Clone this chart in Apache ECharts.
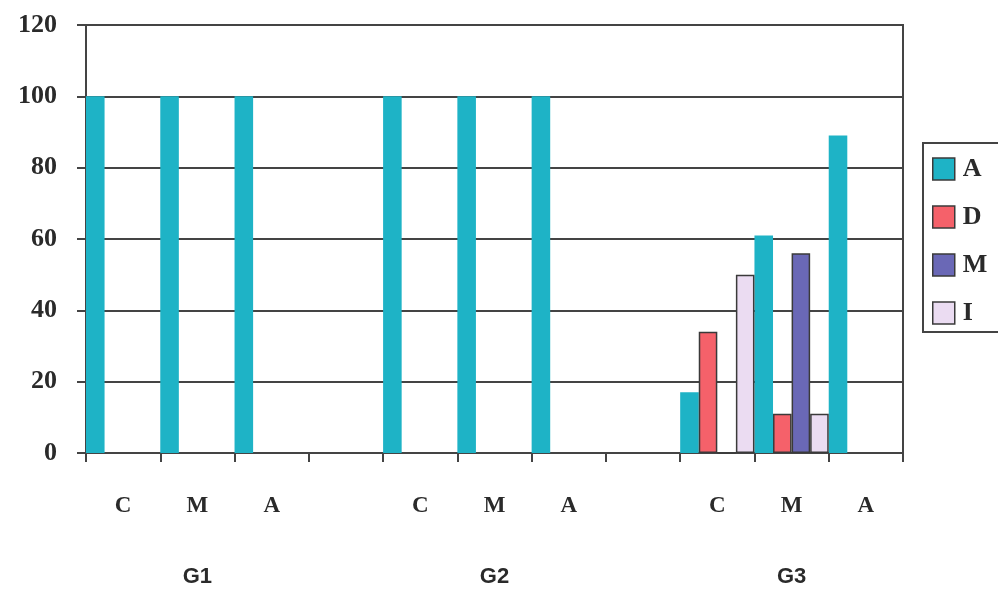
<!DOCTYPE html>
<html>
<head>
<meta charset="utf-8">
<script src="https://cdn.jsdelivr.net/npm/echarts@6/dist/echarts.min.js"></script>
<style>
    html, body { margin: 0; padding: 0; background: #fff; }
    #chart { width: 998px; height: 592px; }
</style>
</head>
<body>
<div id="chart"></div>
<script>
// 每组三个类别，组间留一个空位
const categories = ["C", "M", "A", "", "C", "M", "A", "", "C", "M", "A"];
const groupLabels = ["", "G1", "", "", "", "G2", "", "", "", "G3", ""];
const yTicks = [0, 20, 40, 60, 80, 100, 120];

const seriesNames = ["A", "D", "M", "I"];
const valuesA = [100, 100, 100, null, 100, 100, 100, null, 17, 61, 89];
const valuesD = [null, null, null, null, null, null, null, null, 34, 11, null];
const valuesM = [null, null, null, null, null, null, null, null, 0, 56, null];
const valuesI = [null, null, null, null, null, null, null, null, 50, 11, null];

const colors = ["#1eb3c6", "#f5616a", "#6a68b6", "#ebdcf2"];
const serifFont = "'Liberation Serif', 'DejaVu Serif', serif";

const chart = echarts.init(document.getElementById("chart"));

// 构建柱状序列
function makeBar(name, data, color, outlined) {
    return {
        name: name,
        type: "bar",
        data: data,
        barGap: "0%",
        barCategoryGap: "0%",
        itemStyle: {
            color: color,
            borderColor: outlined ? "#3a3a3a" : color,
            borderWidth: outlined ? 1.5 : 0
        }
    };
}

chart.setOption({
    animation: false,
    color: colors,
    grid: {
        left: 86, right: 95, top: 25, bottom: 139,
        show: true, borderColor: "#444", borderWidth: 2
    },
    legend: {
        orient: "vertical",
        left: 923, top: 143,
        padding: [13, 60, 6, 9],
        itemGap: 22,
        itemWidth: 22, itemHeight: 22,
        icon: "rect",
        borderColor: "#444", borderWidth: 2,
        backgroundColor: "#fff",
        textStyle: { fontFamily: serifFont, fontWeight: "bold", fontSize: 26, color: "#2a2a2a", padding: [0, 0, 0, 3] },
        itemStyle: { borderColor: "#3a3a3a", borderWidth: 1.5 },
        data: seriesNames
    },
    xAxis: [{
        type: "category",
        data: categories,
        axisLine: { lineStyle: { color: "#444", width: 2 } },
        axisTick: { show: true, length: 9, lineStyle: { color: "#444", width: 2 } },
        axisLabel: {
            interval: 0, margin: 42,
            fontFamily: serifFont, fontWeight: "bold", fontSize: 23, color: "#2a2a2a"
        }
    }, {
        type: "category",
        data: groupLabels,
        position: "bottom",
        offset: 0,
        axisLine: { show: false },
        axisTick: { show: false },
        axisLabel: {
            interval: 0, margin: 113,
            fontFamily: "'Liberation Sans', Arial, sans-serif", fontWeight: "bold", fontSize: 22, color: "#2a2a2a"
        }
    }],
    yAxis: {
        type: "value",
        min: 0, max: 120, interval: 20,
        axisLine: { show: true, lineStyle: { color: "#444", width: 2 } },
        axisTick: { show: true, length: 9, lineStyle: { color: "#444", width: 2 } },
        splitLine: { lineStyle: { color: "#444", width: 2 } },
        axisLabel: {
            margin: 29,
            fontFamily: serifFont, fontWeight: "bold", fontSize: 26, color: "#2a2a2a",
            formatter: v => (yTicks.includes(v) ? String(v) : "")
        }
    },
    series: [
        makeBar("A", valuesA, colors[0], false),
        makeBar("D", valuesD, colors[1], true),
        makeBar("M", valuesM, colors[2], true),
        makeBar("I", valuesI, colors[3], true)
    ]
});
</script>
</body>
</html>
